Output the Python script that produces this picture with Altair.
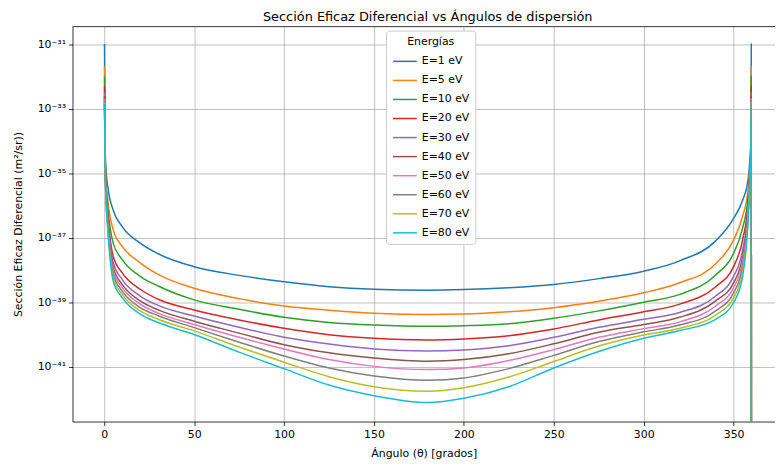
import math
import altair as alt
import pandas as pd

angles = [0.15, 0.5, 1, 2, 5, 10, 20, 30, 50, 75, 100, 125, 150, 180, 200, 225,
          250, 275, 300, 320, 340, 350, 355, 358, 359, 359.5, 359.8, 359.85]

energies = ["E=1 eV", "E=5 eV", "E=10 eV", "E=20 eV", "E=30 eV",
            "E=40 eV", "E=50 eV", "E=60 eV", "E=70 eV", "E=80 eV"]

colors = ["#1f77b4", "#ff7f0e", "#2ca02c", "#d62728", "#9467bd",
          "#8c564b", "#e377c2", "#7f7f7f", "#bcbd22", "#17becf"]

# log10 of the differential cross section (m^2/sr), one list per energy
logv_E1 = [-31.00, -34.20, -34.90, -35.43, -36.15, -36.66, -37.17, -37.50, -37.90, -38.17,
           -38.37, -38.52, -38.60, -38.63, -38.61, -38.55, -38.45, -38.27, -38.04, -37.72,
           -37.10, -36.40, -35.84, -35.22, -34.60, -34.10, -31.00, -46.0]
logv_E5 = [-31.69, -34.40, -35.20, -35.84, -36.76, -37.27, -37.78, -38.14, -38.57, -38.89,
           -39.12, -39.25, -39.34, -39.38, -39.37, -39.30, -39.17, -38.97, -38.71, -38.40,
           -37.81, -37.07, -36.33, -35.53, -34.80, -34.30, -31.69, -46.0]
logv_E10 = [-32.00, -34.50, -35.35, -36.08, -37.17, -37.68, -38.20, -38.50, -38.93, -39.22,
            -39.47, -39.63, -39.71, -39.75, -39.73, -39.67, -39.50, -39.27, -39.00, -38.76,
            -38.16, -37.48, -36.70, -35.75, -34.90, -34.40, -32.00, -46.0]
logv_E20 = [-32.31, -34.60, -35.50, -36.30, -37.58, -38.09, -38.60, -38.91, -39.24, -39.55,
            -39.81, -40.01, -40.12, -40.17, -40.14, -40.04, -39.83, -39.55, -39.30, -39.06,
            -38.52, -37.89, -37.07, -35.96, -35.00, -34.50, -32.31, -46.0]
logv_E30 = [-32.51, -34.65, -35.60, -36.42, -37.77, -38.30, -38.81, -39.10, -39.43, -39.78,
            -40.09, -40.30, -40.45, -40.51, -40.48, -40.35, -40.09, -39.78, -39.53, -39.32,
            -38.81, -38.20, -37.38, -36.12, -35.05, -34.55, -32.51, -46.0]
logv_E40 = [-32.61, -34.70, -35.65, -36.50, -37.93, -38.45, -38.96, -39.24, -39.59, -39.96,
            -40.32, -40.57, -40.73, -40.83, -40.78, -40.60, -40.29, -39.93, -39.69, -39.47,
            -38.96, -38.40, -37.58, -36.21, -35.10, -34.60, -32.61, -46.0]
logv_E50 = [-32.70, -34.72, -35.70, -36.58, -38.04, -38.55, -39.06, -39.34, -39.69, -40.09,
            -40.45, -40.78, -40.99, -41.09, -41.04, -40.81, -40.47, -40.09, -39.82, -39.61,
            -39.12, -38.55, -37.74, -36.30, -35.15, -34.62, -32.70, -46.0]
logv_E60 = [-32.77, -34.75, -35.75, -36.64, -38.14, -38.66, -39.17, -39.42, -39.79, -40.24,
            -40.67, -41.04, -41.29, -41.42, -41.35, -41.06, -40.65, -40.22, -39.92, -39.71,
            -39.27, -38.71, -37.90, -36.36, -35.20, -34.65, -32.77, -46.0]
logv_E70 = [-32.82, -34.77, -35.80, -36.70, -38.24, -38.76, -39.27, -39.53, -39.89, -40.39,
            -40.86, -41.31, -41.62, -41.76, -41.65, -41.32, -40.84, -40.36, -40.02, -39.81,
            -39.40, -38.86, -38.05, -36.42, -35.22, -34.67, -32.82, -46.0]
logv_E80 = [-32.86, -34.80, -35.85, -36.76, -38.35, -38.86, -39.37, -39.63, -40.00, -40.55,
            -41.06, -41.57, -41.90, -42.11, -41.98, -41.62, -41.04, -40.53, -40.12, -39.88,
            -39.53, -39.01, -38.20, -36.48, -35.25, -34.70, -32.86, -46.0]

series = [logv_E1, logv_E5, logv_E10, logv_E20, logv_E30,
          logv_E40, logv_E50, logv_E60, logv_E70, logv_E80]

y_ticks = [1e-31, 1e-33, 1e-35, 1e-37, 1e-39, 1e-41]
y_tick_labels = ["10⁻³¹", "10⁻³³", "10⁻³⁵", "10⁻³⁷", "10⁻³⁹", "10⁻⁴¹"]
x_ticks = [0, 50, 100, 150, 200, 250, 300, 350]

rows = []
for i, (lab, vals) in enumerate(zip(energies, series)):
    for a, lv in zip(angles, vals):
        rows.append({"angle": a, "sigma": 10.0 ** lv, "Energías": lab, "k": i})
df = pd.DataFrame(rows)

# label expression for the y ticks
expr = "''"
for v, lab in reversed(list(zip(y_ticks, y_tick_labels))):
    e = round(math.log10(v))
    expr = f"(round(log(datum.value)/LN10) == {e} ? '{lab}' : {expr})"

W, H = 708, 398
font = "DejaVu Sans"

lines = alt.Chart(df).mark_line(strokeWidth=1.5, clip=True, interpolate="monotone").encode(
    x=alt.X("angle:Q", scale=alt.Scale(domain=[-17.65, 373], nice=False, zero=False),
            axis=alt.Axis(values=x_ticks, title="Ángulo (θ) [grados]", format="d",
                          titlePadding=8)),
    y=alt.Y("sigma:Q", scale=alt.Scale(type="log", domain=[10 ** -42.70, 10 ** -30.46], nice=False),
            axis=alt.Axis(values=y_ticks, labelExpr=expr,
                          title="Sección Eficaz Diferencial (m²/sr))", titlePadding=14)),
    color=alt.Color("Energías:N", scale=alt.Scale(domain=energies, range=colors),
                    sort=energies,
                    legend=alt.Legend(orient="none", legendX=316, legendY=4,
                                      symbolType="stroke", symbolSize=576, symbolStrokeWidth=1.5,
                                      fillColor="white", strokeColor="#cccccc", cornerRadius=3,
                                      padding=6, titleAnchor="middle", titleFontWeight="normal",
                                      titleFontSize=11, labelFontSize=11, rowPadding=1.2,
                                      titlePadding=1,
                                      titleFont=font, labelFont=font, titleColor="black",
                                      labelColor="black")),
    order=alt.Order("k:Q"),
    detail="k:Q",
)

top_spine = alt.Chart(pd.DataFrame({"a": [0]})).mark_rule(color="black", strokeWidth=0.8).encode(
    x=alt.value(0), x2=alt.value(W + 10), y=alt.value(0)
)

chart = alt.layer(lines, top_spine).properties(
    width=W, height=H,
    title=alt.Title("Sección Eficaz Diferencial vs Ángulos de dispersión", fontSize=13,
                    font=font, fontWeight="normal", color="black", offset=2, dx=4),
    autosize=alt.AutoSizeParams(type="none"),
    padding={"left": 65, "top": 17, "right": 0, "bottom": 40},
).configure_view(strokeWidth=0).configure_axis(
    labelFont=font, titleFont=font, labelFontSize=11, titleFontSize=11,
    titleFontWeight="normal", labelColor="black", titleColor="black",
    domainColor="black", domainWidth=0.8, tickColor="black", tickWidth=0.8, tickSize=4,
    gridColor="#b0b0b0", gridWidth=0.8, labelPadding=3,
)

chart.save("out.html", embed_options={"renderer": "svg", "actions": False})
